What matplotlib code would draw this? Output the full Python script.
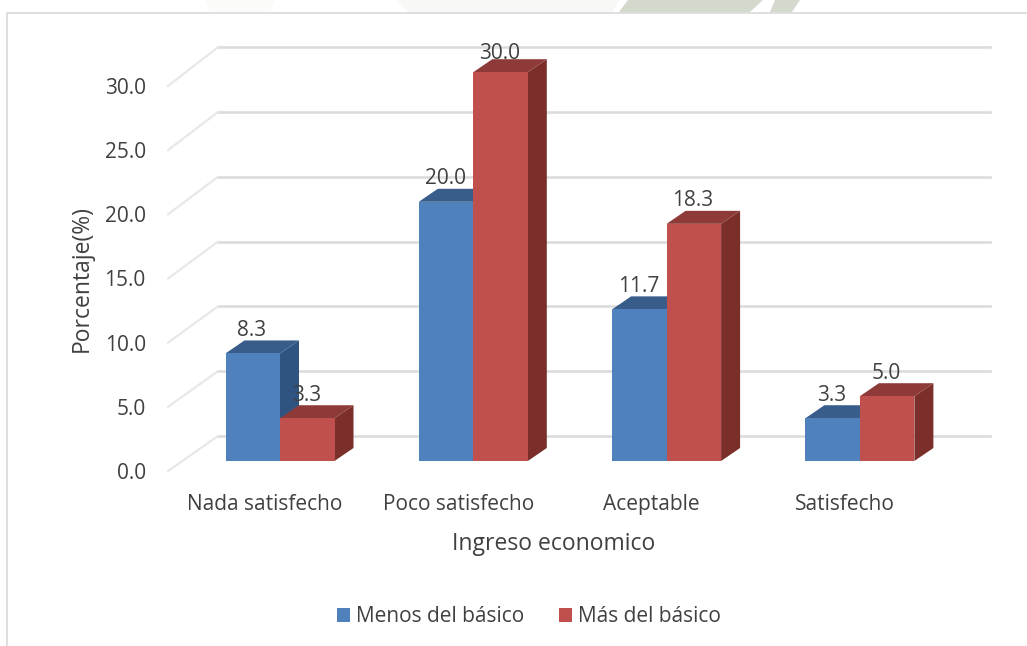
import numpy as np
import matplotlib
matplotlib.use("Agg")
import matplotlib.pyplot as plt
from matplotlib.lines import Line2D
from matplotlib.patches import Polygon, Patch, Rectangle

categories = ["Nada satisfecho", "Poco satisfecho", "Aceptable", "Satisfecho"]
menos = [8.3, 20.0, 11.7, 3.3]
mas = [3.3, 30.0, 18.3, 5.0]
series_names = ["Menos del básico", "Más del básico"]
ticks = [0, 5, 10, 15, 20, 25, 30]

W, H = 1027, 646
plt.rcParams["font.family"] = ["Open Sans", "DejaVu Sans"]
TXT = "#404040"
FS = 15
FS_T = 16.5
fig = plt.figure(figsize=(W / 100, H / 100), dpi=100, facecolor="white")


def rect(l, t, r, b):
    return [l / W, 1 - b / H, (r - l) / W, (b - t) / H]


def figpts(pts):
    return [(px / W, 1 - py / H) for px, py in pts]


# faint watermark remnants above the chart frame
for pts, col in [
    ([(396, 0), (619, 0), (612, 12), (408, 12)], "#f8f9f6"),
    ([(628, 0), (763, 0), (750, 12), (619, 12)], "#d3d9cd"),
    ([(775, 0), (800, 0), (792, 12), (770, 12)], "#d3d9cd"),
    ([(205, 0), (275, 0), (270, 12), (210, 12)], "#fbfbfa"),
]:
    fig.add_artist(Polygon(figpts(pts), closed=True, fc=col, ec="none", transform=fig.transFigure))

# bars axes: one category = 193.3 px, front plane y=0 at pixel 461
x0px, unitx = 280.0, 193.3
L, R, T, B = 168, 1000, 20, 461
ax = fig.add_axes(rect(L, T, R, B))
ax.set_xlim((L - x0px) / unitx, (R - x0px) / unitx)
ax.set_ylim(0, (B - T) / 12.96)
ax.patch.set_alpha(0)
for s in ax.spines.values():
    s.set_visible(False)
ax.set_yticks([])
x = np.arange(len(categories))
ax.set_xticks(x - 15 / unitx)
ax.set_xticklabels(categories, fontsize=FS, color=TXT)
ax.tick_params(axis="x", length=0, pad=24)
ax.set_xlabel("Ingreso economico", fontsize=FS_T, color=TXT, labelpad=12, x=(554 - L) / (R - L))

# tick axes: the plane at the front of the side wall
axt = fig.add_axes(rect(168, 86, 1000, 471))
axt.set_ylim(0, 30)
axt.set_xlim(0, 1)
axt.patch.set_alpha(0)
for s in axt.spines.values():
    s.set_visible(False)
axt.set_xticks([])
axt.set_yticks(ticks)
axt.set_yticklabels([f"{t:.1f}" for t in ticks], fontsize=FS, color=TXT)
axt.tick_params(axis="y", length=0, pad=16)
axt.set_ylabel("Porcentaje(%)", fontsize=FS_T, color=TXT, labelpad=8, y=(471 - 278) / (471 - 86))


def shift(dx, dy):
    return ax.transData + matplotlib.transforms.Affine2D().translate(dx, dy)


# back wall gridlines and side-wall diagonals
GRID = "#dcdcdc"
back = shift(0, 25)
back_l = (218 - x0px) / unitx
back_r = (990 - x0px) / unitx
inv = fig.transFigure.inverted()
for t in ticks:
    ax.add_line(Line2D([back_l, back_r], [t, t], transform=back, color=GRID,
                       lw=1.9, zorder=1, clip_on=False))
    a = inv.transform(axt.transData.transform((0, t)))
    b = inv.transform(back.transform((back_l, t)))
    fig.add_artist(Line2D([a[0], b[0]], [a[1], b[1]], color="#e8e8e8", lw=1.6, zorder=1))

# 3D bars
bw = 54.5 / unitx
DX, DY = 19, 13
FRONT = ["#4F81BD", "#C0504D"]
TOP = ["#385D8A", "#8E3A38"]
SIDE = ["#2F5480", "#7B2F2B"]


def bar3d(xl_, h, i, z):
    xr_ = xl_ + bw
    dx = DX / unitx
    dy = DY / 12.96
    ax.add_patch(Polygon([(xr_, 0), (xr_ + dx, dy), (xr_ + dx, h + dy), (xr_, h)],
                         fc=SIDE[i], ec="none", zorder=z, clip_on=False))
    ax.add_patch(Polygon([(xl_, h), (xl_ + dx, h + dy), (xr_ + dx, h + dy), (xr_, h)],
                         fc=TOP[i], ec="none", zorder=z, clip_on=False))
    ax.add_patch(Rectangle((xl_, 0), bw, h, fc=FRONT[i], ec="none", zorder=z + 0.1, clip_on=False))


for k in range(len(categories)):
    bar3d(x[k] - bw, menos[k], 0, 3 + k)
    bar3d(x[k], mas[k], 1, 3.5 + k)

# value labels (the tallest one sits a little closer to its bar, as in the source)
for k in range(len(categories)):
    for i, v in enumerate((menos[k], mas[k])):
        cx = x[k] + (-0.5 if i == 0 else 0.5) * bw
        off = 19 if v >= max(mas) else 23
        ax.annotate(f"{v:.1f}", (cx, v), xytext=(-1, off), textcoords="offset pixels",
                    ha="center", va="center", fontsize=FS, color=TXT, zorder=10)

# legend
handles = [Patch(fc=FRONT[0]), Patch(fc=FRONT[1])]
fig.legend(handles, series_names, loc="center", bbox_to_anchor=(529 / W, 1 - 617 / H),
           ncol=2, frameon=False, fontsize=FS, labelcolor=TXT, handlelength=0.625,
           handleheight=0.625, handletextpad=0.29, columnspacing=1.63)

# chart frame
fig.add_artist(Line2D([7 / W, 7 / W, 1], [0, 1 - 13 / H, 1 - 13 / H], color="#d9d9d9", lw=1.2))

fig.savefig("out.png", dpi=100, facecolor="white")
